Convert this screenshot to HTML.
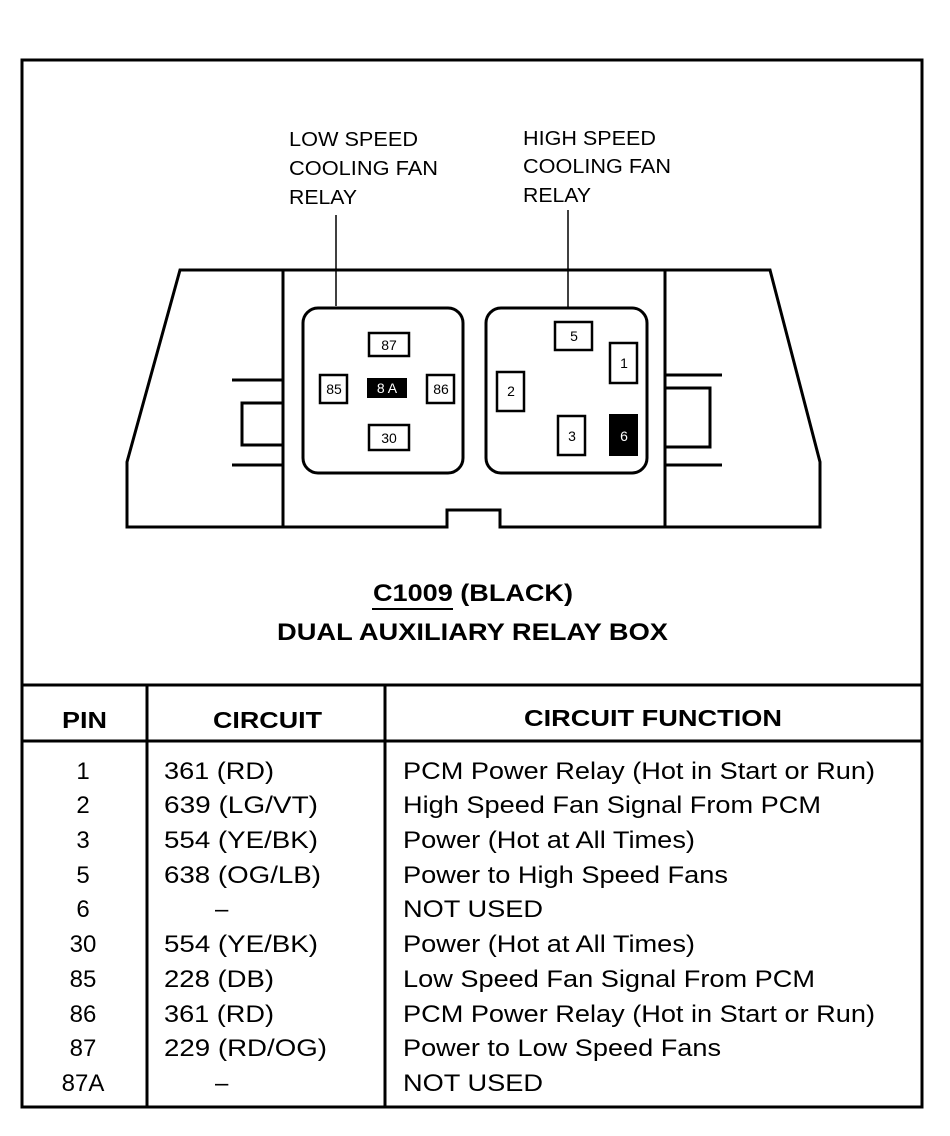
<!DOCTYPE html>
<html><head><style>
html,body{margin:0;padding:0;background:#fff;}
svg{display:block;}
text{font-family:"Liberation Sans",Arial,sans-serif;fill:#000;}
</style></head><body>
<svg width="950" height="1136" viewBox="0 0 950 1136" xmlns="http://www.w3.org/2000/svg">
<g fill="none" stroke="#000" stroke-width="3">
<rect x="22" y="60" width="900" height="1047"/>
<line x1="22" y1="685" x2="922" y2="685"/>
<line x1="22" y1="741" x2="922" y2="741"/>
<line x1="147" y1="685" x2="147" y2="1107"/>
<line x1="385" y1="685" x2="385" y2="1107"/>
<path d="M180 270 L770 270 L820 462 L820 527 L500 527 L500 510 L447 510 L447 527 L127 527 L127 462 Z"/>
<line x1="283" y1="270" x2="283" y2="527"/>
<line x1="665" y1="270" x2="665" y2="527"/>
<line x1="232" y1="380" x2="283" y2="380"/>
<line x1="232" y1="465" x2="283" y2="465"/>
<rect x="242" y="403" width="41" height="42"/>
<line x1="665" y1="375" x2="722" y2="375"/>
<line x1="665" y1="465" x2="722" y2="465"/>
<rect x="665" y="388" width="45" height="59"/>
<rect x="303" y="308" width="160" height="165" rx="15"/>
<rect x="486" y="308" width="161" height="165" rx="15"/>
<g stroke-width="2.5">
<rect x="369" y="333" width="40" height="23"/>
<rect x="320" y="375" width="27" height="28"/>
<rect x="427" y="375" width="27" height="28"/>
<rect x="369" y="425" width="40" height="25"/>
<rect x="555" y="322" width="37" height="28"/>
<rect x="610" y="343" width="27" height="40"/>
<rect x="497" y="372" width="27" height="39"/>
<rect x="558" y="416" width="27" height="39"/>
</g>
<line x1="336" y1="215" x2="336" y2="306" stroke-width="1.5"/>
<line x1="568" y1="210" x2="568" y2="308" stroke-width="1.5"/>
<line x1="372" y1="609" x2="453" y2="609" stroke-width="2"/>
</g>
<rect x="367" y="378" width="40" height="20" fill="#000"/>
<rect x="609" y="414" width="29" height="42" fill="#000"/>
<g font-size="14" text-anchor="middle">
<text x="389" y="350">87</text>
<text x="334" y="394">85</text>
<text x="441" y="394">86</text>
<text x="389" y="443">30</text>
<text x="387" y="393" style="fill:#fff">8 A</text>
<text x="574" y="341">5</text>
<text x="624" y="368">1</text>
<text x="511" y="396">2</text>
<text x="572" y="441">3</text>
<text x="624" y="441" style="fill:#fff">6</text>
</g>
<g font-size="20" lengthAdjust="spacingAndGlyphs">
<text x="289" y="146" textLength="129" lengthAdjust="spacingAndGlyphs">LOW SPEED</text>
<text x="289" y="175" textLength="149" lengthAdjust="spacingAndGlyphs">COOLING FAN</text>
<text x="289" y="204" textLength="68" lengthAdjust="spacingAndGlyphs">RELAY</text>
<text x="523" y="145" textLength="133" lengthAdjust="spacingAndGlyphs">HIGH SPEED</text>
<text x="523" y="173" textLength="148" lengthAdjust="spacingAndGlyphs">COOLING FAN</text>
<text x="523" y="202" textLength="68" lengthAdjust="spacingAndGlyphs">RELAY</text>
</g>
<g font-size="24" font-weight="bold">
<text x="373" y="601" textLength="200" lengthAdjust="spacingAndGlyphs">C1009 (BLACK)</text>
<text x="277" y="640" textLength="391" lengthAdjust="spacingAndGlyphs">DUAL AUXILIARY RELAY BOX</text>
<text x="62" y="728" font-size="23" textLength="45" lengthAdjust="spacingAndGlyphs">PIN</text>
<text x="213" y="728" font-size="23" textLength="109" lengthAdjust="spacingAndGlyphs">CIRCUIT</text>
<text x="524" y="726" font-size="23" textLength="258" lengthAdjust="spacingAndGlyphs">CIRCUIT FUNCTION</text>
</g>
<g font-size="24">
<g text-anchor="middle">
<text x="83" y="779">1</text><text x="83" y="813">2</text><text x="83" y="848">3</text><text x="83" y="883">5</text><text x="83" y="917">6</text><text x="83" y="952">30</text><text x="83" y="987">85</text><text x="83" y="1022">86</text><text x="83" y="1056">87</text><text x="83" y="1091">87A</text>
</g>
<text x="164" y="779" textLength="110" lengthAdjust="spacingAndGlyphs">361 (RD)</text>
<text x="164" y="813" textLength="154" lengthAdjust="spacingAndGlyphs">639 (LG/VT)</text>
<text x="164" y="848" textLength="154" lengthAdjust="spacingAndGlyphs">554 (YE/BK)</text>
<text x="164" y="883" textLength="157" lengthAdjust="spacingAndGlyphs">638 (OG/LB)</text>
<text x="215" y="917">–</text>
<text x="164" y="952" textLength="154" lengthAdjust="spacingAndGlyphs">554 (YE/BK)</text>
<text x="164" y="987" textLength="110" lengthAdjust="spacingAndGlyphs">228 (DB)</text>
<text x="164" y="1022" textLength="110" lengthAdjust="spacingAndGlyphs">361 (RD)</text>
<text x="164" y="1056" textLength="163" lengthAdjust="spacingAndGlyphs">229 (RD/OG)</text>
<text x="215" y="1091">–</text>
<text x="403" y="779" textLength="472" lengthAdjust="spacingAndGlyphs">PCM Power Relay (Hot in Start or Run)</text>
<text x="403" y="813" textLength="418" lengthAdjust="spacingAndGlyphs">High Speed Fan Signal From PCM</text>
<text x="403" y="848" textLength="292" lengthAdjust="spacingAndGlyphs">Power (Hot at All Times)</text>
<text x="403" y="883" textLength="325" lengthAdjust="spacingAndGlyphs">Power to High Speed Fans</text>
<text x="403" y="917" textLength="140" lengthAdjust="spacingAndGlyphs">NOT USED</text>
<text x="403" y="952" textLength="292" lengthAdjust="spacingAndGlyphs">Power (Hot at All Times)</text>
<text x="403" y="987" textLength="412" lengthAdjust="spacingAndGlyphs">Low Speed Fan Signal From PCM</text>
<text x="403" y="1022" textLength="472" lengthAdjust="spacingAndGlyphs">PCM Power Relay (Hot in Start or Run)</text>
<text x="403" y="1056" textLength="318" lengthAdjust="spacingAndGlyphs">Power to Low Speed Fans</text>
<text x="403" y="1091" textLength="140" lengthAdjust="spacingAndGlyphs">NOT USED</text>
</g>
</svg>
</body></html>
